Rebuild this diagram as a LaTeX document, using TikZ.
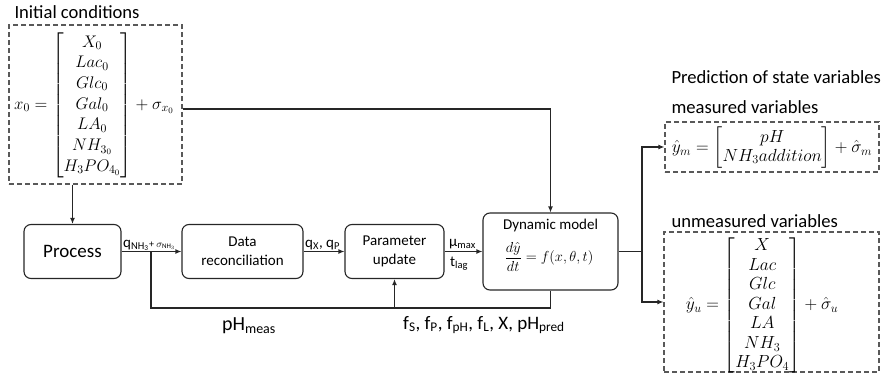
\RequirePackage{fix-cm}
\documentclass[tikz,border=0pt]{standalone}
\usepackage{amsmath}
\usepackage{fontspec}
\setmainfont{Carlito}
\usetikzlibrary{arrows.meta}
\newcommand\mybrk[2]{\left[\vrule height #1 depth #1 width 0pt\smash{\begin{matrix}#2\end{matrix}}\right]}
\begin{document}
\begin{tikzpicture}[x=1pt,y=-1pt,
  box/.style={draw=black!85, line width=1.1pt, rounded corners=7pt, inner sep=0pt, align=center},
  dbox/.style={draw=black!65, line width=1.1pt, dash pattern=on 5pt off 3pt, inner sep=0pt},
  conn/.style={line width=1.2pt, draw=black!85},
  arr/.style={conn, -{Latex[length=6pt,width=5pt]}},
  bigf/.style={font=\fontsize{19}{22}\selectfont},
  titf/.style={font=\fontsize{18.6}{22}\selectfont},
  boxf/.style={font=\fontsize{15}{19}\selectfont},
  lblf/.style={font=\fontsize{15}{17}\selectfont}]
\useasboundingbox (0,0) rectangle (886,375);

% initial conditions
\node[titf, anchor=base west] (tinit) at (11,18) {Initial conditions};
\node[dbox, minimum width=173pt, minimum height=159pt] (init) at (95.5,104.5) {};
\node[font=\fontsize{16.8}{20.7}\selectfont, inner sep=0pt] (initeq) at (94,105)
  {$x_0=\mybrk{67pt}{X_0\\ Lac_0\\ Glc_0\\ Gal_0\\ LA_0\\ NH_{3_0}\\ H_3PO_{4_0}}+\sigma_{x_0}$};

% main row
\node[box, bigf, minimum width=97pt, minimum height=54pt] (proc) at (72.5,251.5) {Process};
\node[box, boxf, minimum width=121pt, minimum height=54pt] (drec) at (242.5,251.5) {Data\\reconciliation};
\node[box, boxf, minimum width=99pt, minimum height=54pt] (param) at (394.5,251.5) {Parameter\\update};
\node[box, minimum width=135pt, minimum height=77pt] (dyn) at (550.5,251.5) {};
\node[font=\fontsize{15}{18}\selectfont, inner sep=1pt] (dyntxt) at (550.5,225) {Dynamic model};
\node[font=\fontsize{14.5}{17}\selectfont, inner sep=1pt] (dyneq) at (549,257) {$\dfrac{d\hat{y}}{dt}=f(x,\theta,t)$};

% outputs
\node[titf, anchor=base west] (tpred) at (668,83) {Prediction of state variables};
\node[titf, anchor=base west] (tmeas) at (668,113) {measured variables};
\node[dbox, minimum width=214pt, minimum height=50pt] (meas) at (772,147) {};
\node[font=\fontsize{17.5}{19}\selectfont, inner sep=0pt] (measeq) at (772,148)
  {$\hat{y}_m=\begin{bmatrix}pH\\ NH_3addition\end{bmatrix}+\hat{\sigma}_m$};
\node[titf, anchor=base west] (tunm) at (668,227) {unmeasured variables};
\node[dbox, minimum width=215pt, minimum height=140pt] (unm) at (771.5,302) {};
\node[font=\fontsize{17.5}{19.5}\selectfont, inner sep=0pt] (unmeq) at (762,306)
  {$\hat{y}_u=\mybrk{64pt}{X\\ Lac\\ Glc\\ Gal\\ LA\\ NH_3\\ H_3PO_4}+\hat{\sigma}_u$};

% connectors
\coordinate (b1) at (151,251.5);
\coordinate (b2) at (151,308);
\coordinate (b3) at (642,251.5);
\draw[arr] (proc.north |- init.south) -- (proc.north);
\draw[arr] ([yshift=-4.5pt]init.east) -| (dyn.north);
\draw[arr] (proc.east) -- (drec.west);
\draw[conn] (b1) -- (b2) -| (dyn.south);
\draw[arr] (param.south |- b2) -- (param.south);
\draw[arr] (drec.east) -- (param.west);
\draw[arr] (param.east) -- (dyn.west);
\draw[conn] (dyn.east) -- (b3);
\draw[arr] (b3) |- (meas.west);
\draw[arr] (b3) |- (unm.west);

% labels
\node[lblf, anchor=base west, inner sep=0pt] (lq) at (123,247)
  {q\textsubscript{NH\textsubscript{3}}{\fontsize{10}{12}\selectfont+ $\sigma_{\mathrm{NH}_3}$}};
\node[lblf, anchor=base west, inner sep=0pt] (lqx) at (305,247) {q\textsubscript{X}, q\textsubscript{P}};
\node[lblf, anchor=base west, inner sep=0pt] (lmu) at (449,246) {μ\textsubscript{max}};
\node[lblf, anchor=base west, inner sep=0pt] (ltlag) at (450,266) {t\textsubscript{lag}};
\node[font=\fontsize{20}{24}\selectfont, anchor=base, inner sep=0pt] (lph) at (249,330) {pH\textsubscript{meas}};
\node[bigf, anchor=base west, inner sep=0pt] (lf) at (403,329)
  {f\textsubscript{S}, f\textsubscript{P}, f\textsubscript{pH}, f\textsubscript{L}, X, pH\textsubscript{pred}};
\end{tikzpicture}
\end{document}
